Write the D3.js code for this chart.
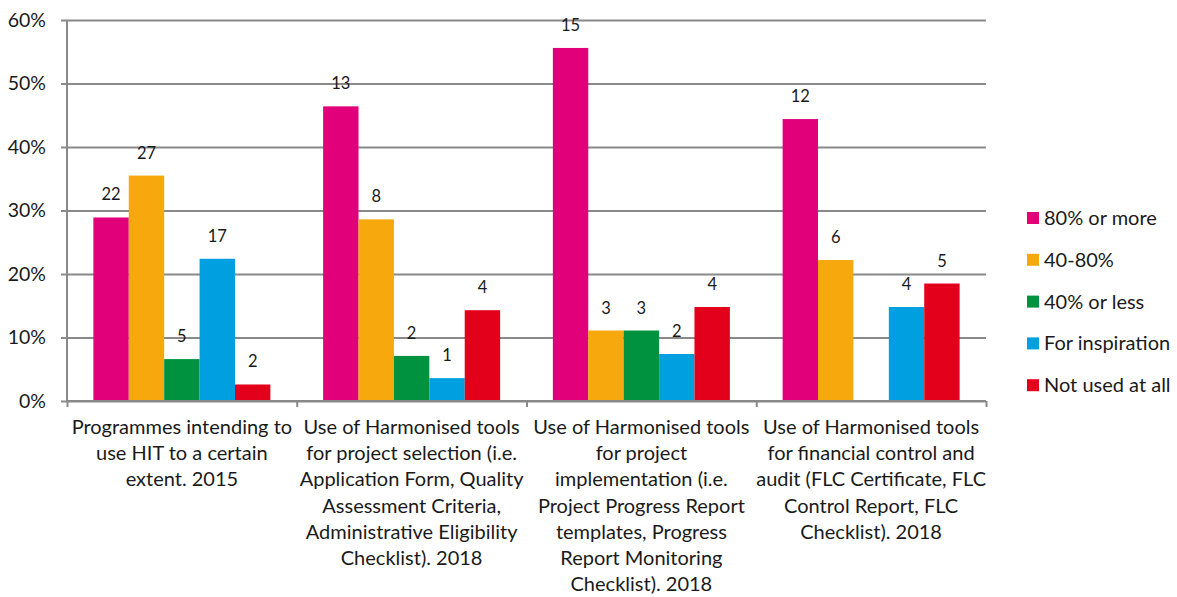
<!DOCTYPE html>
<html>
<head>
<meta charset="utf-8">
<script src="https://cdn.jsdelivr.net/npm/d3@7"></script>
<style>
  html, body { margin: 0; padding: 0; background: #fff; }
  svg { display: block; font-family: Lato, "Open Sans", sans-serif; }
</style>
</head>
<body>
<svg id="chart" width="1177" height="597"></svg>
<script>
// ---- data ----
const categories = [
  ["Programmes intending to", "use HIT to a certain", "extent. 2015"],
  ["Use of Harmonised tools", "for project selection (i.e.", "Application Form, Quality", "Assessment Criteria,", "Administrative Eligibility", "Checklist). 2018"],
  ["Use of Harmonised tools", "for project", "implementation (i.e.", "Project Progress Report", "templates, Progress", "Report Monitoring", "Checklist). 2018"],
  ["Use of Harmonised tools", "for financial control and", "audit (FLC Certificate, FLC", "Control Report, FLC", "Checklist). 2018"]
];
const seriesNames = ["80% or more", "40-80%", "40% or less", "For inspiration", "Not used at all"];
const seriesColors = ["#E2007A", "#F7A80C", "#00923F", "#009FE0", "#E3001B"];
// percentage of programmes per category
const pct80 = [28.9, 46.4, 55.6, 44.4];
const pct4080 = [35.5, 28.6, 11.1, 22.2];
const pct40less = [6.6, 7.1, 11.1, null];
const pctInspiration = [22.4, 3.6, 7.4, 14.8];
const pctNotUsed = [2.6, 14.3, 14.8, 18.5];
// data labels (number of programmes)
const n80 = [22, 13, 15, 12];
const n4080 = [27, 8, 3, 6];
const n40less = [5, 2, 3, null];
const nInspiration = [17, 1, 2, 4];
const nNotUsed = [2, 4, 4, 5];
const yTicks = [0, 10, 20, 30, 40, 50, 60];

const pctSeries = [pct80, pct4080, pct40less, pctInspiration, pctNotUsed];
const nSeries = [n80, n4080, n40less, nInspiration, nNotUsed];

// ---- layout ----
const mLeft = 67, mRight = 986, mTop = 20, mBottom = 401;
const svg = d3.select("#chart");
const catIdx = d3.range(categories.length);

const x0 = d3.scaleBand().domain(catIdx).range([mLeft, mRight]).paddingInner(0).paddingOuter(0);
const x1 = d3.scaleBand().domain(d3.range(seriesNames.length)).range([0, x0.bandwidth()])
  .paddingInner(0).paddingOuter(0.745);
const y = d3.scaleLinear().domain([0, 60]).range([mBottom, mTop]);

const gridColor = "#898989";

// gridlines
const grid = svg.append("g").attr("transform", `translate(${mLeft},0)`)
  .call(d3.axisLeft(y).tickValues(yTicks).tickSize(-(mRight - mLeft)).tickFormat(""));
grid.select(".domain").remove();
grid.selectAll("line").attr("stroke", gridColor).attr("stroke-width", 2);

// y axis
const yAxis = svg.append("g").attr("transform", `translate(${mLeft},0)`)
  .call(d3.axisLeft(y).tickValues(yTicks).tickSize(6).tickPadding(15).tickFormat(d => d + "%"));
yAxis.select(".domain").attr("stroke", gridColor).attr("stroke-width", 2).attr("d", `M0,${mTop}V${mBottom}`);
yAxis.selectAll("line").attr("stroke", gridColor).attr("stroke-width", 2);
yAxis.selectAll("text").attr("font-size", 19.5).attr("fill", "#1a1a1a").attr("font-family", "Lato, sans-serif");

// bars
const groups = svg.append("g").selectAll("g")
  .data(catIdx).join("g")
  .attr("transform", c => `translate(${x0(c)},0)`);

groups.selectAll("rect")
  .data(c => pctSeries.map((s, i) => ({ i, v: s[c], n: nSeries[i][c] })).filter(d => d.v != null))
  .join("rect")
  .attr("x", d => x1(d.i))
  .attr("width", x1.bandwidth())
  .attr("y", d => y(d.v))
  .attr("height", d => y(0) - y(d.v))
  .attr("fill", d => seriesColors[d.i]);

groups.selectAll("text.lbl")
  .data(c => pctSeries.map((s, i) => ({ i, v: s[c], n: nSeries[i][c] })).filter(d => d.v != null))
  .join("text")
  .attr("class", "lbl")
  .attr("x", d => x1(d.i) + x1.bandwidth() / 2)
  .attr("y", d => y(d.v) - 17)
  .attr("text-anchor", "middle")
  .attr("font-size", 16.5)
  .attr("fill", "#1a1a1a")
  .text(d => d.n);

// x axis
const xb = d3.scaleLinear().domain([0, categories.length]).range([mLeft, mRight]);
const xAxis = svg.append("g").attr("transform", `translate(0,${mBottom})`)
  .call(d3.axisBottom(xb).tickValues(d3.range(categories.length + 1)).tickSize(6).tickFormat(""));
xAxis.select(".domain").attr("stroke", gridColor).attr("stroke-width", 2).attr("d", `M${mLeft},0H${mRight}`);
xAxis.selectAll("line").attr("stroke", gridColor).attr("stroke-width", 2);

// category labels
const catLabels = svg.append("g").selectAll("text")
  .data(catIdx).join("text")
  .attr("x", c => x0(c) + x0.bandwidth() / 2)
  .attr("y", 434)
  .attr("text-anchor", "middle")
  .attr("font-size", 20)
  .attr("fill", "#1a1a1a");
catLabels.selectAll("tspan")
  .data(c => categories[c].map((t, k) => ({ t, k, c })))
  .join("tspan")
  .attr("x", d => x0(d.c) + x0.bandwidth() / 2)
  .attr("dy", d => d.k === 0 ? 0 : 26.2)
  .text(d => d.t);

// legend
const legend = svg.append("g").selectAll("g")
  .data(seriesNames).join("g")
  .attr("transform", (d, i) => `translate(1027,${218 + i * 41.8})`);
legend.append("rect").attr("x", 0).attr("y", -6).attr("width", 12).attr("height", 12)
  .attr("fill", (d, i) => seriesColors[i]);
legend.append("text").attr("x", 17).attr("y", 7).attr("font-size", 20).attr("fill", "#1a1a1a").text(d => d);
</script>
</body>
</html>
